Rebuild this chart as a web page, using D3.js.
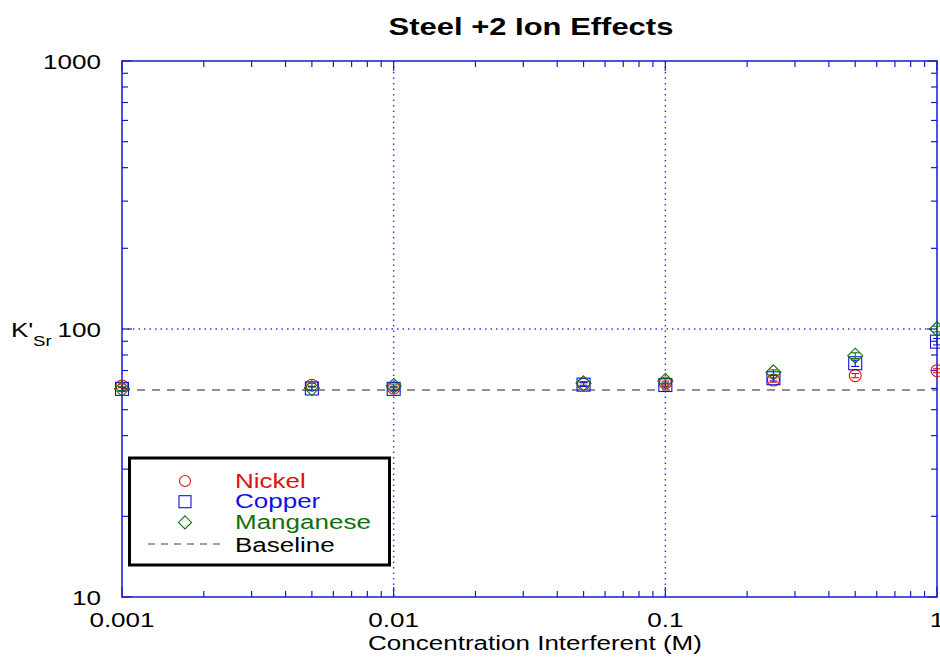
<!DOCTYPE html>
<html><head><meta charset="utf-8">
<script src="https://cdn.jsdelivr.net/npm/d3@7/dist/d3.min.js"></script>
<style>body{margin:0;background:#fff}svg{display:block}text{font-family:"Liberation Sans",Arial,sans-serif}</style>
</head><body>
<script>
const concentrations = [0.001, 0.005, 0.01, 0.05, 0.1, 0.25, 0.5, 1];
const nickel    = [61.3, 61.7, 60.2, 62.3, 62.9, 64.5, 67.0, 69.9];
const nickelErr = [1.0, 1.0, 1.0, 1.0, 1.0, 1.2, 1.2, 1.2];
const copper    = [59.8, 60.0, 59.8, 62.0, 61.8, 65.5, 74.5, 89.7];
const copperErr = [1.0, 1.0, 1.0, 1.0, 1.0, 1.5, 2.0, 2.5];
const manganese = [59.8, 60.2, 61.3, 62.7, 64.0, 68.9, 79.5, 100];
const manganeseErr = [1.0, 1.0, 1.0, 1.0, 1.2, 1.5, 2.0, 2.5];
const baseline = 59.2;
const xTicks = [0.001, 0.01, 0.1, 1];
const xTickLabels = ["0.001", "0.01", "0.1", "1"];
const yTicks = [10, 100, 1000];
const yTickLabels = ["10", "100", "1000"];
const seriesNames = ["Nickel", "Copper", "Manganese"];

const W = 940, H = 658;
const m = {l: 122, r: 3, t: 61, b: 60};
const STRETCH = 1.24;
const svg = d3.select("body").append("svg").attr("width", W).attr("height", H);
const x = d3.scaleLog().domain([0.001, 1]).range([m.l, W - m.r]);
const y = d3.scaleLog().domain([10, 1000]).range([H - m.b - 1, m.t]);
const axisCol = "#1a1acc";
const gridCol = "#3a3aff";

function stretch(sel, f) {
  sel.each(function () {
    const len = this.getComputedTextLength();
    d3.select(this).attr("textLength", len * f).attr("lengthAdjust", "spacingAndGlyphs");
  });
  return sel;
}

// grid
svg.append("g").selectAll("line").data(xTicks.slice(1, -1)).join("line")
  .attr("x1", d => x(d)).attr("x2", d => x(d)).attr("y1", y(1000)).attr("y2", y(10))
  .attr("stroke", gridCol).attr("stroke-width", 1.5).attr("stroke-dasharray", "1.5,4");
svg.append("g").selectAll("line").data(yTicks.slice(1, -1)).join("line")
  .attr("x1", x(0.001)).attr("x2", x(1)).attr("y1", d => y(d)).attr("y2", d => y(d))
  .attr("stroke", gridCol).attr("stroke-width", 1.5).attr("stroke-dasharray", "1.5,4");

// minor ticks
const xMinor = [], yMinor = [];
[0.001, 0.01, 0.1].forEach(dec => { for (let k = 2; k <= 9; k++) xMinor.push(dec * k); });
[10, 100].forEach(dec => { for (let k = 2; k <= 9; k++) yMinor.push(dec * k); });
const tk = svg.append("g").attr("stroke", axisCol).attr("stroke-width", 1.2);
xMinor.forEach(v => {
  tk.append("line").attr("x1", x(v)).attr("x2", x(v)).attr("y1", y(10)).attr("y2", y(10) - 6);
  tk.append("line").attr("x1", x(v)).attr("x2", x(v)).attr("y1", y(1000)).attr("y2", y(1000) + 6);
});
yMinor.forEach(v => {
  tk.append("line").attr("x1", x(0.001)).attr("x2", x(0.001) + 6).attr("y1", y(v)).attr("y2", y(v));
  tk.append("line").attr("x1", x(1)).attr("x2", x(1) - 6).attr("y1", y(v)).attr("y2", y(v));
});
xTicks.forEach(v => {
  tk.append("line").attr("x1", x(v)).attr("x2", x(v)).attr("y1", y(10)).attr("y2", y(10) - 10);
  tk.append("line").attr("x1", x(v)).attr("x2", x(v)).attr("y1", y(1000)).attr("y2", y(1000) + 10);
});
yTicks.forEach(v => {
  tk.append("line").attr("x1", x(0.001)).attr("x2", x(0.001) + 10).attr("y1", y(v)).attr("y2", y(v));
  tk.append("line").attr("x1", x(1)).attr("x2", x(1) - 10).attr("y1", y(v)).attr("y2", y(v));
});

// frame
svg.append("rect").attr("x", x(0.001)).attr("y", y(1000)).attr("width", x(1) - x(0.001)).attr("height", y(10) - y(1000))
  .attr("fill", "none").attr("stroke", axisCol).attr("stroke-width", 1.5);

// baseline
svg.append("line").attr("x1", x(0.001)).attr("x2", x(1)).attr("y1", y(baseline)).attr("y2", y(baseline))
  .attr("stroke", "#222").attr("stroke-width", 1.2).attr("stroke-dasharray", "8,7");

// series
const colors = ["#e01010", "#1010e0", "#107010"];
const datasets = [[nickel, nickelErr], [copper, copperErr], [manganese, manganeseErr]];
function marker(g, i, cx, cy) {
  if (i === 0) g.append("circle").attr("cx", cx).attr("cy", cy).attr("r", 6);
  else if (i === 1) g.append("rect").attr("x", cx - 6.5).attr("y", cy - 6.5).attr("width", 13).attr("height", 13);
  else g.append("path").attr("d", `M${cx},${cy - 7.5}L${cx + 7.5},${cy}L${cx},${cy + 7.5}L${cx - 7.5},${cy}Z`);
}
datasets.forEach(([vals, errs], i) => {
  const g = svg.append("g").attr("stroke", colors[i]).attr("fill", "none").attr("stroke-width", 1.1);
  vals.forEach((v, j) => {
    const cx = x(concentrations[j]), cy = y(v);
    const y1 = y(v + errs[j]), y2 = y(v - errs[j]);
    g.append("line").attr("x1", cx).attr("x2", cx).attr("y1", y1).attr("y2", y2);
    g.append("line").attr("x1", cx - 4).attr("x2", cx + 4).attr("y1", y1).attr("y2", y1);
    g.append("line").attr("x1", cx - 4).attr("x2", cx + 4).attr("y1", y2).attr("y2", y2);
    marker(g, i, cx, cy);
  });
});

// tick labels
stretch(svg.append("g").selectAll("text").data(xTicks).join("text")
  .attr("x", d => x(d)).attr("y", 627).attr("text-anchor", "middle").attr("font-size", 21)
  .text((d, i) => xTickLabels[i]), STRETCH);
stretch(svg.append("g").selectAll("text").data(yTicks).join("text")
  .attr("x", 101).attr("y", d => y(d) + 7.5).attr("text-anchor", "end").attr("font-size", 21)
  .text((d, i) => yTickLabels[i]), STRETCH);

// y label
const kt = svg.append("text").attr("x", 11).attr("y", 337).attr("font-size", 21).text("K'");
stretch(kt, STRETCH);
const st = svg.append("text").attr("x", 33).attr("y", 346).attr("font-size", 15).text("Sr");
stretch(st, STRETCH);

// x label
stretch(svg.append("text").attr("x", 535).attr("y", 650).attr("text-anchor", "middle").attr("font-size", 20)
  .text("Concentration Interferent (M)"), 1.3);

// title
stretch(svg.append("text").attr("x", 531).attr("y", 35).attr("text-anchor", "middle").attr("font-size", 24)
  .attr("font-weight", "bold").text("Steel +2 Ion Effects"), 1.29);

// legend
const lg = svg.append("g");
lg.append("rect").attr("x", 129.5).attr("y", 458).attr("width", 260).attr("height", 107)
  .attr("fill", "#fff").attr("stroke", "#000").attr("stroke-width", 3);
seriesNames.forEach((name, i) => {
  const cy = 481 + i * 20.7;
  const mg = lg.append("g").attr("stroke", colors[i]).attr("fill", "none").attr("stroke-width", 1.1);
  if (i === 0) mg.append("circle").attr("cx", 185).attr("cy", cy).attr("r", 5.5);
  else if (i === 1) mg.append("rect").attr("x", 179).attr("y", cy - 6).attr("width", 12).attr("height", 12);
  else mg.append("path").attr("d", `M185,${cy - 6.5}L191.5,${cy}L185,${cy + 6.5}L178.5,${cy}Z`);
  stretch(lg.append("text").attr("x", 235).attr("y", cy + 6.5).attr("font-size", 20).attr("fill", colors[i]).text(name), 1.3);
});
lg.append("line").attr("x1", 148).attr("x2", 226).attr("y1", 544).attr("y2", 544)
  .attr("stroke", "#444").attr("stroke-width", 1.2).attr("stroke-dasharray", "7,6");
stretch(lg.append("text").attr("x", 235).attr("y", 552).attr("font-size", 20).attr("fill", "#000").text("Baseline"), 1.3);
</script>
</body></html>
